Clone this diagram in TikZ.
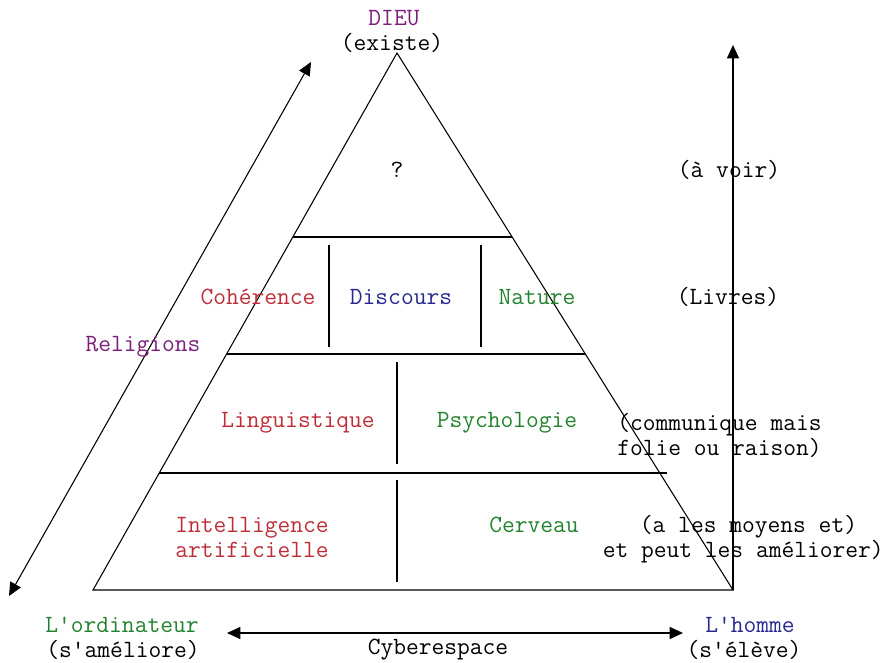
\documentclass[tikz,border=0pt]{standalone}
\usepackage{fontspec}
\usepackage{tikz}
\usetikzlibrary{arrows.meta}
\usepackage{xcolor}
\definecolor{rouge}{RGB}{190,45,55}
\definecolor{vert}{RGB}{35,130,45}
\definecolor{bleu}{RGB}{40,40,145}
\definecolor{pourpre}{RGB}{125,30,125}

\begin{document}
\begin{tikzpicture}[x=0.75pt,y=-0.75pt,
    every node/.style={font=\ttfamily\fontsize{18.6}{18.75}\selectfont, inner sep=0pt, align=center},
    trait/.style={line width=0.8pt},
    fleche/.style={line width=0.8pt, -{Triangle[length=10pt,width=9pt]}},
    dfleche/.style={line width=0.8pt, {Triangle[length=10pt,width=9pt]}-{Triangle[length=10pt,width=9pt]}}]
    \useasboundingbox (0,0) rectangle (886,663);

    % pyramide
    \coordinate (sommet) at (397,53);
    \coordinate (basg) at (93,590);
    \coordinate (basd) at (733,590);
    \draw[trait] (sommet) -- (basg) -- (basd) -- cycle;

    % étages
    \draw[trait] (293,237) -- (512,237);
    \draw[trait] (227,354) -- (585,354);
    \draw[trait] (159,473) -- (667,473);

    % cloisons
    \draw[trait] (329,245) -- (329,347);
    \draw[trait] (481,245) -- (481,347);
    \draw[trait] (397,362) -- (397,464);
    \draw[trait] (397,480) -- (397,582);

    % flèches
    \coordinate (relhaut) at (311,62);
    \coordinate (relbas) at (9,596);
    \draw[dfleche] (relbas) -- (relhaut);
    \coordinate (homhaut) at (733,45);
    \draw[fleche] (basd) -- (homhaut);
    \coordinate (cybg) at (227,633);
    \coordinate (cybd) at (683,633);
    \draw[dfleche] (cybg) -- (cybd);

    % sommet
    \node[pourpre] (dieu) at (394,18) {DIEU};
    \node (existe) at (392,43) {(existe)};
    \node (question) at (397,170) {?};
    \node (avoir) at (729,170) {(à voir)};

    % deuxième étage
    \node[rouge] (coherence) at (258,297) {Cohérence};
    \node[bleu] (discours) at (401,297) {Discours};
    \node[vert] (nature) at (537,297) {Nature};
    \node (livres) at (728,297) {(Livres)};
    \node[pourpre] (religions) at (143,347) {Religions};

    % troisième étage
    \node[rouge] (linguistique) at (298,423) {Linguistique};
    \node[vert] (psychologie) at (507,423) {Psychologie};
    \node[anchor=west, align=left] (communique) at (617,435.5) {(communique mais\\folie ou raison)};

    % base
    \node[rouge] (ia) at (252,537.5) {Intelligence\\artificielle};
    \node[vert] (cerveau) at (534,525) {Cerveau};
    \node[anchor=east, align=left] (moyens) at (884,539.5) {\hspace*{1.5em}(a les moyens et)\\et peut les améliorer)};

    % bas
    \node[vert] (ordinateur) at (122,625) {L'ordinateur};
    \node (sameliore) at (123,650) {(s'améliore)};
    \node[bleu] (homme) at (750,625) {L'homme};
    \node (seleve) at (744,650) {(s'élève)};
    \node (cyber) at (438,650) {Cyberespace};
\end{tikzpicture}
\end{document}
